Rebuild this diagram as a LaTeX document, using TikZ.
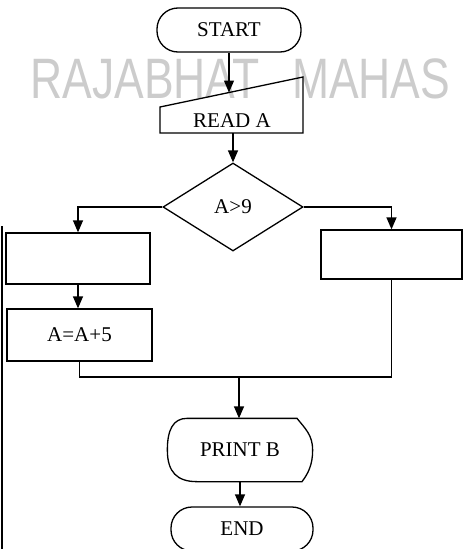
\documentclass[tikz,border=0pt]{standalone}
\usepackage{fontspec}
\setmainfont{Liberation Serif}
\newfontfamily\wmfont{Liberation Sans}
\usetikzlibrary{arrows.meta,shapes.geometric}
\begin{document}
\begin{tikzpicture}[x=1pt,y=-1pt,
  line width=1.3pt,
  txt/.style={font=\fontsize{21}{25}\selectfont},
  term/.style={draw, rounded corners=21pt, minimum width=144pt, minimum height=44pt, inner sep=0pt, txt},
  procbox/.style={draw, inner sep=0pt, txt},
  flow/.style={-{Triangle[length=12pt,width=10pt]}}]
\useasboundingbox (0,0) rectangle (463,549);
% watermark
\node[anchor=base west, text=black!20, font=\wmfont\fontsize{57}{60}\selectfont, xscale=0.78, inner sep=0pt] (wm) at (30,98) {RAJABHAT\hspace{26pt} MAHAS};
% page edge
\draw[line width=1.5pt] (2,226) -- (2,549);
% nodes
\node[term] (start) at (229,30) {START};
\node[txt, inner sep=0pt] (readA) at (232,121) {READ A};
\coordinate (raTL) at (160,107);
\coordinate (raTR) at (303,77);
\coordinate (raBR) at (303,133);
\coordinate (raBL) at (160,133);
\draw (raTL) -- (raTR) -- (raBR) -- (raBL) -- cycle;
\coordinate (raIn) at (229,92.5);
\coordinate (raOut) at (233,133);
\node[draw, diamond, minimum width=140pt, minimum height=88pt, inner sep=0pt, txt] (dec) at (233,207) {A>9};
\node[procbox, minimum width=144pt, minimum height=51pt] (b1) at (78,258.5) {};
\node[procbox, minimum width=145pt, minimum height=52pt] (b2) at (79.5,335) {A=A+5};
\node[procbox, minimum width=141pt, minimum height=49pt] (b3) at (391.5,254.5) {};
\coordinate (m) at (239,377);
\node[txt, inner sep=0pt, minimum width=144pt, minimum height=62pt] (pb) at (240,450) {PRINT B};
\draw ([xshift=-53pt]pb.north) -- ([xshift=57pt]pb.north)
  .. controls +(8,10) and +(0,-15) .. (pb.east)
  .. controls +(0,15) and +(6,-8) .. ([xshift=62pt]pb.south)
  -- ([xshift=-43pt]pb.south)
  .. controls +(-20,0) and +(0,22) .. (pb.west)
  .. controls +(0,-20) and +(-14,0) .. ([xshift=-53pt]pb.north) -- cycle;
\node[term, minimum width=142pt] (end) at (242,529) {END};
% connectors
\draw[flow] (start.south) -- (raIn);
\draw[flow] (raOut) -- (dec.north);
\draw[flow] (dec.west) -| (b1.north);
\draw[flow] (dec.east) -| (b3.north);
\draw[flow] (b1.south) -- (b1.south |- b2.north);
\draw (b2.south) |- (m);
\draw (b3.south) |- (m);
\draw[flow] (m) -- (m |- pb.north);
\draw[flow] (pb.south) -- (pb.south |- end.north);
\end{tikzpicture}
\end{document}
